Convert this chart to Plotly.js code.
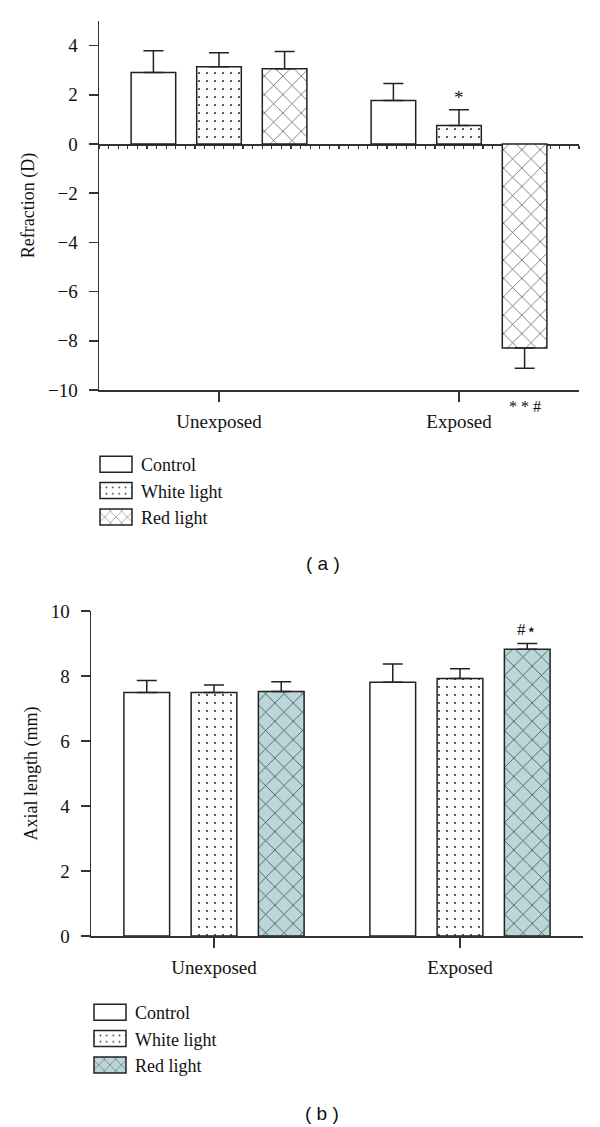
<!DOCTYPE html>
<html>
<head>
<meta charset="utf-8">
<script src="https://cdn.plot.ly/plotly-3.0.1.min.js"></script>
<style>html,body{margin:0;padding:0;background:#fff;}</style>
</head>
<body>
<div id="chart" style="width:600px;height:1127px;"></div>
<script>
// ---- data ----
const categories = ['Unexposed', 'Exposed'];
const seriesNames = ['Control', 'White light', 'Red light'];

const refractionControl = [2.91, 1.77];
const refractionControlErr = [0.88, 0.69];
const refractionWhite = [3.14, 0.75];
const refractionWhiteErr = [0.57, 0.64];
const refractionRed = [3.06, -8.29];
const refractionRedErr = [0.70, 0.83];

const axialControl = [7.49, 7.81];
const axialControlErr = [0.37, 0.56];
const axialWhite = [7.49, 7.92];
const axialWhiteErr = [0.23, 0.30];
const axialRed = [7.52, 8.82];
const axialRedErr = [0.30, 0.18];

const refractionTicks = [-10, -8, -6, -4, -2, 0, 2, 4];
const axialTicks = [0, 2, 4, 6, 8, 10];

// ---- styles ----
const SERIF = 'Liberation Serif, DejaVu Serif, serif';
const INK = '#222';
const AX = '#333';

function patternFor(i, panel) {
  if (i === 0) return {shape: '', bgcolor: '#ffffff'};
  if (i === 1) return {shape: '.', fgcolor: '#222', bgcolor: '#ffffff', size: 8, solidity: 0.05};
  if (panel === 'a') return {shape: 'x', fgcolor: '#444', bgcolor: '#ffffff', size: 13, solidity: 0.1};
  return {shape: 'x', fgcolor: '#3b4f58', bgcolor: '#bcd5d8', size: 13, solidity: 0.12};
}

function barTrace(name, i, vals, errs, xa, ya, panel, legend) {
  return {
    type: 'bar', name: name, x: categories, y: vals,
    xaxis: xa, yaxis: ya, legend: legend,
    marker: {color: '#ffffff', line: {color: INK, width: 1.5}, pattern: patternFor(i, panel)},
    error_y: {
      type: 'data', symmetric: false,
      array: vals.map((v, k) => v >= 0 ? errs[k] : 0),
      arrayminus: vals.map((v, k) => v < 0 ? errs[k] : 0),
      color: INK, thickness: 1.5, width: 10
    },
    hoverinfo: 'skip'
  };
}

const data = [
  barTrace(seriesNames[0], 0, refractionControl, refractionControlErr, 'x', 'y', 'a', 'legend'),
  barTrace(seriesNames[1], 1, refractionWhite, refractionWhiteErr, 'x', 'y', 'a', 'legend'),
  barTrace(seriesNames[2], 2, refractionRed, refractionRedErr, 'x', 'y', 'a', 'legend'),
  barTrace(seriesNames[0], 0, axialControl, axialControlErr, 'x3', 'y2', 'b', 'legend2'),
  barTrace(seriesNames[1], 1, axialWhite, axialWhiteErr, 'x3', 'y2', 'b', 'legend2'),
  barTrace(seriesNames[2], 2, axialRed, axialRedErr, 'x3', 'y2', 'b', 'legend2'),
  // empty carrier so the zero-line axis (x2) is drawn
  {type: 'scatter', x: [], y: [], xaxis: 'x2', yaxis: 'y', showlegend: false, hoverinfo: 'skip'}
];

const H = 1127, W = 600;
const py = p => 1 - p / H;
const px = p => p / W;

const tickFont = {family: SERIF, size: 19, color: '#111'};

function catAxis(domain, anchor) {
  return {
    domain: domain, anchor: anchor, type: 'category',
    categoryorder: 'array', categoryarray: categories,
    range: [-0.5, 1.5], fixedrange: true,
    showline: true, linecolor: AX, linewidth: 1.5,
    ticks: 'outside', ticklen: 10, tickwidth: 1.5, tickcolor: AX,
    tickfont: tickFont, ticklabelstandoff: 4,
    showgrid: false, zeroline: false
  };
}
function valAxis(domain, anchor, range, tickvals, title) {
  return {
    domain: domain, anchor: anchor, range: range, fixedrange: true,
    tickmode: 'array', tickvals: tickvals,
    ticktext: tickvals.map(v => v < 0 ? '\u2212' + Math.abs(v) : String(v)),
    showline: true, linecolor: AX, linewidth: 1.5,
    ticks: 'outside', ticklen: 9, tickwidth: 1.5, tickcolor: AX,
    tickfont: tickFont, ticklabelstandoff: 7,
    showgrid: false, zeroline: false,
    title: {text: title, font: {family: SERIF, size: 18, color: '#111'}, standoff: 8}
  };
}

const topDomainY = [py(390), py(21)];
const botDomainY = [py(936), py(611)];
// position of y=0 on the top panel (paper fraction)
const zeroFrac = topDomainY[0] + (0 - (-10)) / 15 * (topDomainY[1] - topDomainY[0]);

const legendFont = {family: SERIF, size: 18, color: '#111'};

const layout = {
  width: W, height: H,
  margin: {l: 0, r: 0, t: 0, b: 0},
  paper_bgcolor: '#fff', plot_bgcolor: 'rgba(0,0,0,0)',
  barmode: 'group', bargap: 0.18, bargroupgap: 0.32,
  font: {family: SERIF, size: 18, color: '#111'},
  xaxis: catAxis([px(99), px(579)], 'y'),
  yaxis: valAxis(topDomainY, 'x', [-10, 5], refractionTicks, 'Refraction (D)'),
  xaxis2: {
    overlaying: 'x', anchor: 'free', position: zeroFrac, side: 'bottom',
    range: [-0.5, 1.5], fixedrange: true,
    tickmode: 'linear', tick0: -0.5, dtick: 0.04,
    ticks: 'outside', ticklen: 3, tickwidth: 1.2, tickcolor: AX,
    showticklabels: false, showline: true, linecolor: AX, linewidth: 1.5,
    showgrid: false, zeroline: false, layer: 'below traces'
  },
  xaxis3: catAxis([px(91), px(583)], 'y2'),
  yaxis2: valAxis(botDomainY, 'x3', [0, 10], axialTicks, 'Axial length (mm)'),
  showlegend: true,
  legend: {
    x: px(91), y: py(446), xanchor: 'left', yanchor: 'top',
    font: legendFont,
    bgcolor: 'rgba(0,0,0,0)', itemwidth: 40, tracegroupgap: 0,
    traceorder: 'normal', itemclick: false, itemdoubleclick: false
  },
  legend2: {
    x: px(85), y: py(994), xanchor: 'left', yanchor: 'top',
    font: legendFont,
    bgcolor: 'rgba(0,0,0,0)', itemwidth: 40, tracegroupgap: 0,
    traceorder: 'normal', itemclick: false, itemdoubleclick: false
  },
  annotations: [
    {xref: 'x', yref: 'y', x: 1, y: refractionWhite[1] + refractionWhiteErr[1],
     yshift: 12, text: '*', showarrow: false, font: {family: SERIF, size: 19, color: '#111'}},
    {xref: 'x', yref: 'y', x: 1.273, y: -10, yshift: -16,
     text: '* * #', showarrow: false, font: {family: SERIF, size: 16, color: '#111'}},
    {xref: 'x3', yref: 'y2', x: 1.273, y: axialRed[1] + axialRedErr[1], yshift: 14,
     text: '#\u22C6', showarrow: false, font: {family: SERIF, size: 17, color: '#111'}},
    {xref: 'paper', yref: 'paper', x: px(323), y: py(563), xanchor: 'center', yanchor: 'middle',
     text: '( a )', showarrow: false, font: {family: 'Liberation Sans, Arial, sans-serif', size: 19, color: '#111'}},
    {xref: 'paper', yref: 'paper', x: px(322), y: py(1113), xanchor: 'center', yanchor: 'middle',
     text: '( b )', showarrow: false, font: {family: 'Liberation Sans, Arial, sans-serif', size: 19, color: '#111'}}
  ]
};

function widenLegendSymbols() {
  document.querySelectorAll('g.legendpoints path').forEach(p => {
    p.setAttribute('d', 'M16,8H-16V-8H16Z');
  });
}

Plotly.newPlot('chart', data, layout, {staticPlot: true, displayModeBar: false}).then(() => {
  widenLegendSymbols();
  setTimeout(widenLegendSymbols, 50);
});
</script>
</body>
</html>
